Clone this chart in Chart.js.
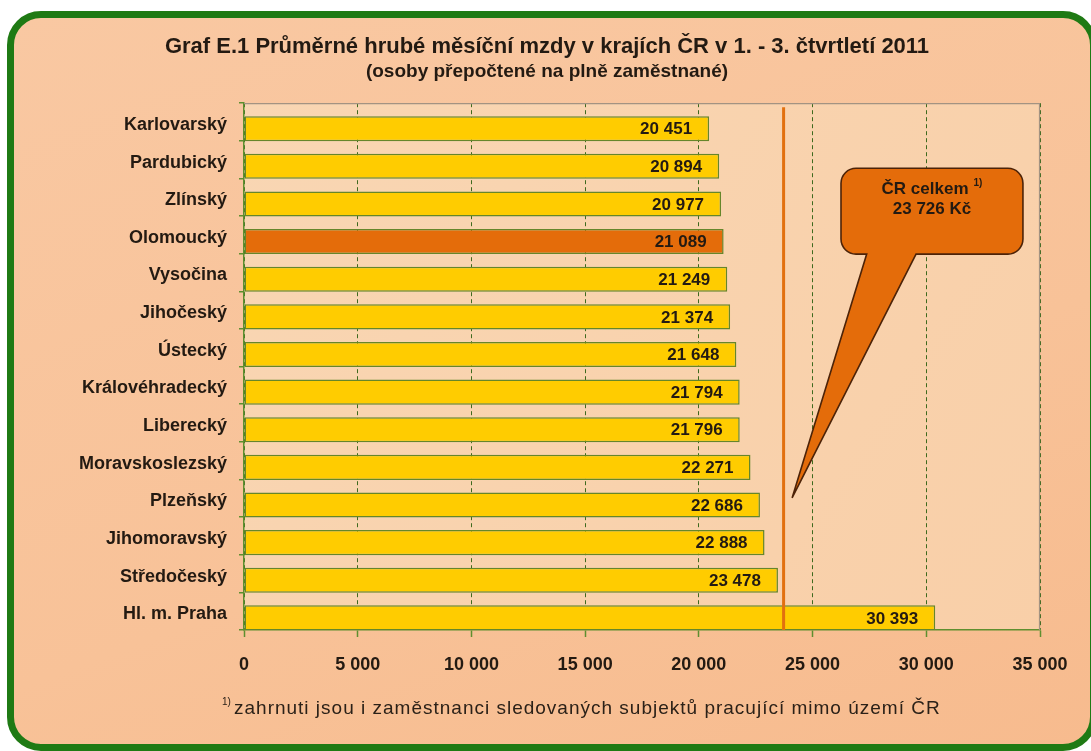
<!DOCTYPE html>
<html>
<head>
<meta charset="utf-8">
<script src="https://cdn.jsdelivr.net/npm/chart.js@4.4.1/dist/chart.umd.min.js"></script>
<style>
  html, body { margin: 0; padding: 0; background: #ffffff; width: 1091px; height: 751px; overflow: hidden; }
  #frame { position: absolute; left: 7px; top: 11px; width: 1090px; height: 740px; box-sizing: border-box;
           border: 7px solid #1f7a14; border-radius: 34px;
           background: linear-gradient(160deg, #f9c8a2 0%, #f8c298 60%, #f7bb8e 100%); }
  #c { position: absolute; left: 0; top: 0; }
</style>
</head>
<body>
<div id="frame"></div>
<canvas id="c" width="1091" height="751"></canvas>
<script>
// ---- data ----
const categories = ['Karlovarský', 'Pardubický', 'Zlínský', 'Olomoucký', 'Vysočina', 'Jihočeský', 'Ústecký',
  'Královéhradecký', 'Liberecký', 'Moravskoslezský', 'Plzeňský', 'Jihomoravský', 'Středočeský', 'Hl. m. Praha'];
const wages = [20451, 20894, 20977, 21089, 21249, 21374, 21648, 21794, 21796, 22271, 22686, 22888, 23478, 30393];
const highlightRegion = 'Olomoucký';
const crAverage = 23726;
const xTicks = [0, 5000, 10000, 15000, 20000, 25000, 30000, 35000];
const titleText = 'Graf E.1 Průměrné hrubé měsíční mzdy v krajích ČR v 1. - 3. čtvrtletí 2011';
const subtitleText = '(osoby přepočtené na plně zaměstnané)';
const calloutLines = ['ČR celkem', '23 726 Kč'];
const calloutSup = '1)';
const footnoteSup = '1)';
const footnoteText = 'zahrnuti jsou i zaměstnanci sledovaných subjektů pracující mimo území ČR';

// ---- styles ----
const FONT = "'Liberation Sans', Arial, sans-serif";
const TEXT = '#231a12';
const fmt = v => String(v).replace(/\B(?=(\d{3})+(?!\d))/g, '\u00a0');

// callout geometry in data units (x value, category index)
const callout = { x1: 26250, x2: 34250, i1: 1.23, i2: 3.51, baseX1: 27380, baseX2: 29550, tipX: 24100, tipI: 9.99 };

const plotBg = {
  id: 'plotBg',
  beforeDraw(chart) {
    const { ctx, chartArea: a } = chart;
    ctx.save();
    const g = ctx.createLinearGradient(a.left, a.top, a.right, a.bottom);
    g.addColorStop(0, '#f9d6b3');
    g.addColorStop(1, '#f9cfa8');
    ctx.fillStyle = g;
    ctx.fillRect(a.left, a.top, a.right - a.left, a.bottom - a.top);
    ctx.restore();
  },
  beforeDatasetsDraw(chart) {
    const { ctx, chartArea: a } = chart;
    ctx.save();
    ctx.strokeStyle = '#a39382';
    ctx.lineWidth = 1.2;
    ctx.beginPath();
    ctx.moveTo(a.left, a.top + 0.5);
    ctx.lineTo(a.right - 0.5, a.top + 0.5);
    ctx.lineTo(a.right - 0.5, a.bottom);
    ctx.stroke();
    ctx.restore();
  }
};

const overlay = {
  id: 'overlay',
  afterDatasetsDraw(chart) {
    const { ctx, chartArea: a, scales: { x, y } } = chart;
    // average line
    const ax = x.getPixelForValue(crAverage);
    ctx.save();
    ctx.strokeStyle = '#e2700f';
    ctx.lineWidth = 3;
    ctx.beginPath();
    ctx.moveTo(ax, a.top + 4);
    ctx.lineTo(ax, a.bottom);
    ctx.stroke();
    // value labels
    const meta = chart.getDatasetMeta(1);
    ctx.font = `bold 17px ${FONT}`;
    ctx.fillStyle = TEXT;
    ctx.textAlign = 'right';
    ctx.textBaseline = 'middle';
    meta.data.forEach((bar, i) => {
      ctx.fillText(fmt(wages[i]), bar.x - 17, bar.y + 1);
    });
    ctx.restore();
  },
  afterDraw(chart) {
    const { ctx, scales: { x, y } } = chart;
    // callout
    const L = x.getPixelForValue(callout.x1), R = x.getPixelForValue(callout.x2);
    const T = y.getPixelForValue(callout.i1), B = y.getPixelForValue(callout.i2);
    const bx1 = x.getPixelForValue(callout.baseX1), bx2 = x.getPixelForValue(callout.baseX2);
    const tx = x.getPixelForValue(callout.tipX), ty = y.getPixelForValue(callout.tipI);
    const r = 15;
    ctx.save();
    ctx.beginPath();
    ctx.moveTo(L + r, T);
    ctx.lineTo(R - r, T);
    ctx.arcTo(R, T, R, T + r, r);
    ctx.lineTo(R, B - r);
    ctx.arcTo(R, B, R - r, B, r);
    ctx.lineTo(bx2, B);
    ctx.lineTo(tx, ty);
    ctx.lineTo(bx1, B);
    ctx.lineTo(L + r, B);
    ctx.arcTo(L, B, L, B - r, r);
    ctx.lineTo(L, T + r);
    ctx.arcTo(L, T, L + r, T, r);
    ctx.closePath();
    ctx.fillStyle = '#e46c0a';
    ctx.fill();
    ctx.strokeStyle = '#4d2308';
    ctx.lineWidth = 1.6;
    ctx.stroke();
    // callout text
    const cx = (L + R) / 2;
    ctx.fillStyle = TEXT;
    ctx.textBaseline = 'middle';
    ctx.font = `bold 17px ${FONT}`;
    const w1 = ctx.measureText(calloutLines[0]).width;
    ctx.font = `bold 10px ${FONT}`;
    const ws = ctx.measureText(calloutSup).width;
    const start = cx - (w1 + 5 + ws) / 2;
    ctx.textAlign = 'left';
    ctx.font = `bold 17px ${FONT}`;
    ctx.fillText(calloutLines[0], start, T + 21);
    ctx.font = `bold 10px ${FONT}`;
    ctx.fillText(calloutSup, start + w1 + 5, T + 15);
    ctx.font = `bold 17px ${FONT}`;
    ctx.textAlign = 'center';
    ctx.fillText(calloutLines[1], cx, T + 41);
    // footnote
    ctx.fillStyle = '#2b2118';
    ctx.textAlign = 'left';
    ctx.font = `10px ${FONT}`;
    ctx.fillText(footnoteSup, 222, 702);
    ctx.font = `19px ${FONT}`;
    if ('letterSpacing' in ctx) ctx.letterSpacing = '1px';
    ctx.fillText(footnoteText, 234, 709);
    ctx.restore();
  }
};

const barColors = categories.map(c => c === highlightRegion ? '#e46c0a' : '#ffcc00');

new Chart(document.getElementById('c'), {
  type: 'bar',
  data: {
    labels: categories,
    datasets: [
      { label: 'spacer', data: categories.map(() => null), backgroundColor: 'rgba(0,0,0,0)', borderWidth: 0 },
      { label: 'Průměrná hrubá měsíční mzda', data: wages, backgroundColor: barColors,
        borderColor: '#66862a', borderWidth: 1.5, borderSkipped: false }
    ]
  },
  options: {
    indexAxis: 'y',
    responsive: false,
    animation: false,
    devicePixelRatio: 1,
    layout: { padding: { left: 54, right: 51, top: 0, bottom: 0 } },
    datasets: { bar: { categoryPercentage: 0.712, barPercentage: 1.87 } },
    plugins: {
      legend: { display: false },
      tooltip: { enabled: false },
      title: { display: true, text: titleText, color: TEXT,
        font: { family: FONT, size: 22, weight: 'bold' }, padding: { top: 34, bottom: 0 } },
      subtitle: { display: true, text: subtitleText, color: TEXT,
        font: { family: FONT, size: 19, weight: 'bold' }, padding: { top: 0, bottom: 20 } }
    },
    scales: {
      x: {
        min: 0, max: 35000,
        afterBuildTicks: s => { s.ticks = xTicks.map(v => ({ value: v })); },
        afterFit: s => { s.height = 121; },
        ticks: { callback: v => fmt(v), color: TEXT, font: { family: FONT, size: 18, weight: 'bold' }, padding: 17, maxRotation: 0 },
        grid: { color: '#3f6a1e', lineWidth: 1, tickLength: 7, tickColor: '#5e8f2f', tickWidth: 1.5 },
        border: { display: true, color: '#5e8f2f', width: 1.5, dash: [4, 3] }
      },
      y: {
        afterFit: s => { s.width = 190; },
        ticks: { color: TEXT, font: { family: FONT, size: 18, weight: 'bold' }, padding: 12, labelOffset: 3 },
        grid: { offset: true, drawOnChartArea: false, tickLength: 5, color: '#5e8f2f', lineWidth: 1.5 },
        border: { display: true, color: '#5e8f2f', width: 1.5 }
      }
    }
  },
  plugins: [plotBg, overlay]
});
</script>
</body>
</html>
